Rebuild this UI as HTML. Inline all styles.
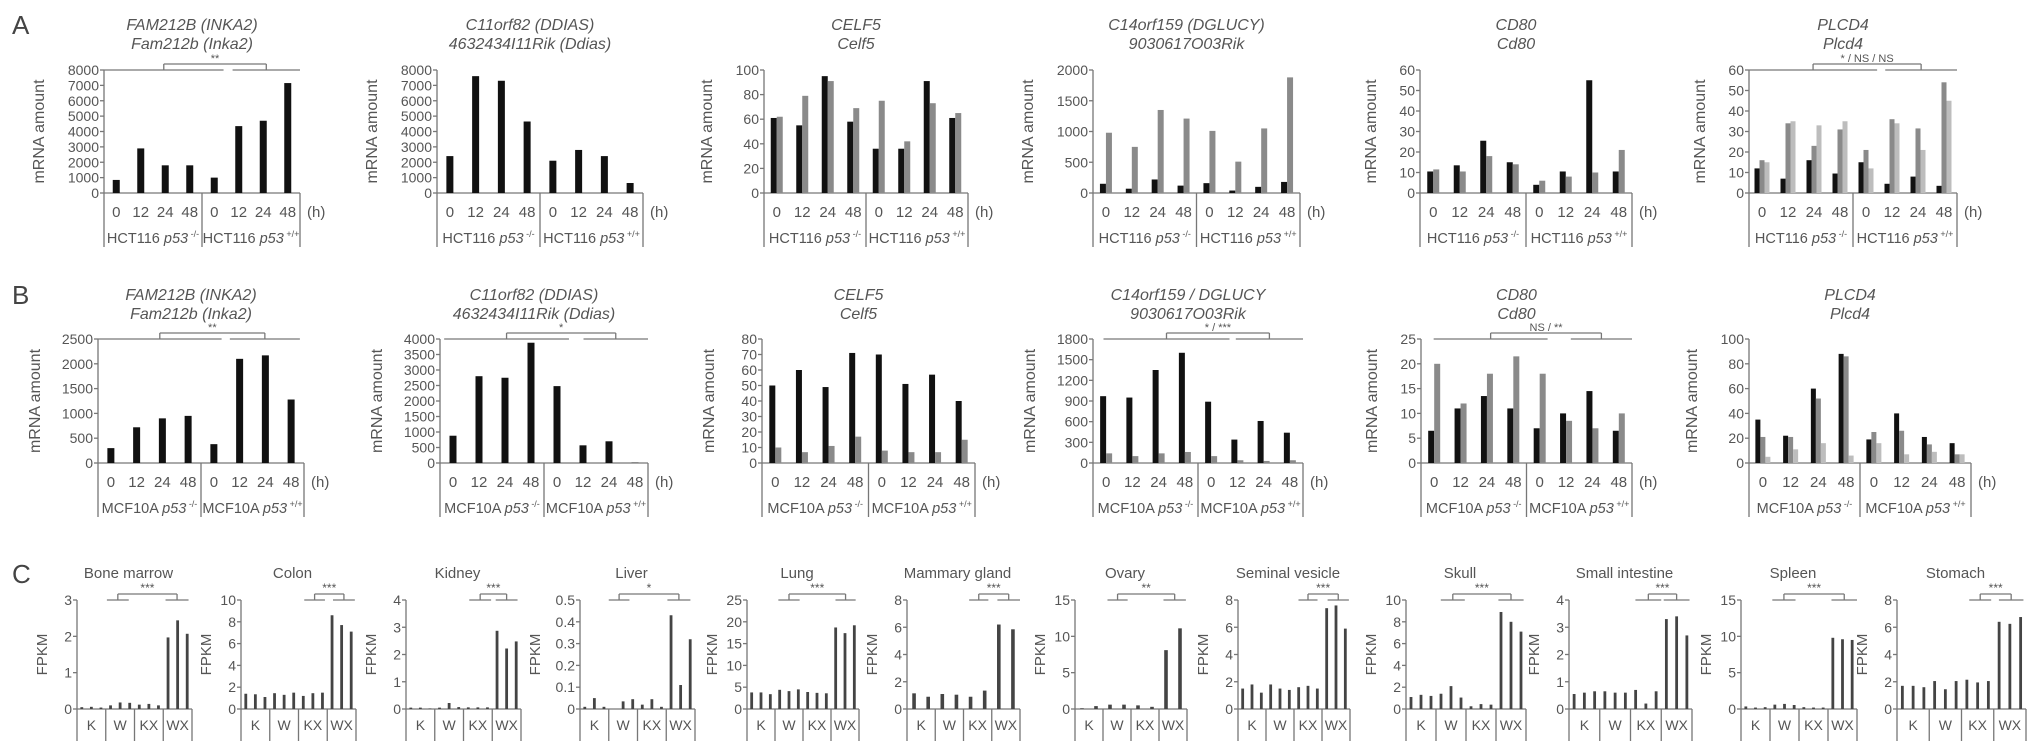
<!DOCTYPE html>
<html><head><meta charset="utf-8">
<style>
html,body{margin:0;padding:0;background:#fff;}
svg{display:block;font-family:"Liberation Sans",Arial,sans-serif;}
</style></head>
<body>
<svg id="fig" xmlns="http://www.w3.org/2000/svg" width="2031" height="754" viewBox="0 0 2031 754">
<text x="12" y="34" font-size="26" fill="#444">A</text>
<text x="12" y="304" font-size="26" fill="#444">B</text>
<text x="12" y="583" font-size="26" fill="#444">C</text>
</svg>
<script>
// ---- shared labels ----
const timeLabels = ['0','12','24','48','0','12','24','48'];
const tissueGroups = ['K','W','KX','WX'];

// ---- Panel A data ----
const a1Values = [850, 2900, 1800, 1800, 1000, 4350, 4700, 7150];
const a1Ticks = [0,1000,2000,3000,4000,5000,6000,7000,8000];
const a2Values = [2400, 7600, 7300, 4650, 2100, 2800, 2400, 650];
const a2Ticks = [0,1000,2000,3000,4000,5000,6000,7000,8000];
const a3Black = [61, 55, 95, 58, 36, 36, 91, 61];
const a3Grey = [62, 79, 91, 69, 75, 42, 73, 65];
const a3Ticks = [0,20,40,60,80,100];
const a4Black = [150, 70, 220, 120, 160, 40, 100, 180];
const a4Grey = [980, 750, 1350, 1210, 1010, 510, 1050, 1880];
const a4Ticks = [0,500,1000,1500,2000];
const a5Black = [10.5, 13.5, 25.5, 15, 4, 10.5, 55, 10.5];
const a5Grey = [11.5, 10.5, 18, 14, 6, 8, 10, 21];
const a5Ticks = [0,10,20,30,40,50,60];
const a6Black = [12, 7, 16, 9.5, 15, 4.5, 8, 3.5];
const a6Grey = [16, 34, 23, 31, 21, 36, 31.5, 54];
const a6Light = [15, 35, 33, 35, 12, 34, 21, 45];
const a6Ticks = [0,10,20,30,40,50,60];

// ---- Panel B data ----
const b1Values = [300, 720, 900, 950, 380, 2100, 2170, 1280];
const b1Ticks = [0,500,1000,1500,2000,2500];
const b2Values = [880, 2800, 2750, 3880, 2480, 570, 700, 10];
const b2Ticks = [0,500,1000,1500,2000,2500,3000,3500,4000];
const b3Black = [50, 60, 49, 71, 70, 51, 57, 40];
const b3Grey = [10, 7, 11, 17, 8, 7, 7, 15];
const b3Ticks = [0,10,20,30,40,50,60,70,80];
const b4Black = [970, 950, 1350, 1600, 890, 340, 610, 440];
const b4Grey = [140, 100, 140, 160, 100, 40, 30, 40];
const b4Ticks = [0,300,600,900,1200,1500,1800];
const b5Black = [6.5, 11, 13.5, 11, 7, 10, 14.5, 6.5];
const b5Grey = [20, 12, 18, 21.5, 18, 8.5, 7, 10];
const b5Ticks = [0,5,10,15,20,25];
const b6Black = [35, 22, 60, 88, 19, 40, 21, 16];
const b6Grey = [21, 21, 52, 86, 25, 26, 15, 7];
const b6Light = [5, 11, 16, 6, 16, 7, 9, 7];
const b6Ticks = [0,20,40,60,80,100];

// ---- Panel C data ----
const cNames = ['Bone marrow','Colon','Kidney','Liver','Lung','Mammary gland','Ovary','Seminal vesicle','Skull','Small intestine','Spleen','Stomach'];
const cStars = ['***','***','***','*','***','***','**','***','***','***','***','***'];
const cBoneMarrow = [0.05,0.06,0.04,0.1,0.18,0.17,0.12,0.14,0.1,1.97,2.44,2.07];
const cColon = [1.4,1.35,1.1,1.45,1.3,1.5,1.2,1.45,1.5,8.6,7.7,7.1];
const cKidney = [0.05,0.05,0.02,0.05,0.22,0.07,0.06,0.06,0.06,2.87,2.22,2.48];
const cLiver = [0.01,0.05,0.01,0.0,0.035,0.045,0.02,0.045,0.01,0.43,0.11,0.32];
const cLung = [3.8,3.8,3.4,4.4,4.1,4.5,3.9,3.7,3.6,18.7,17.4,19.2];
const cMammary = [1.15,0.9,1.1,1.05,0.9,1.35,6.2,5.85];
const cOvary = [0.1,0.4,0.6,0.6,0.5,0.3,8.1,11.1];
const cSeminal = [1.5,1.8,1.2,1.8,1.5,1.4,1.6,1.7,1.5,7.4,7.6,5.9];
const cSkull = [1.1,1.3,1.2,1.4,2.1,1.05,0.25,0.45,0.4,8.9,8.0,7.1];
const cSmallInt = [0.55,0.6,0.65,0.65,0.6,0.6,0.7,0.2,0.65,3.3,3.4,2.7];
const cSpleen = [0.35,0.2,0.25,0.6,0.7,0.55,0.25,0.2,0.2,9.8,9.6,9.5];
const cStomach = [1.7,1.7,1.6,2.05,1.45,2.05,2.15,1.95,2.05,6.4,6.25,6.75];
const cTicks = [[0,1,2,3],[0,2,4,6,8,10],[0,1,2,3,4],[0,0.1,0.2,0.3,0.4,0.5],[0,5,10,15,20,25],[0,2,4,6,8],[0,5,10,15],[0,2,4,6,8],[0,2,4,6,8,10],[0,1,2,3,4],[0,5,10,15],[0,2,4,6,8]];
const cSeries = [cBoneMarrow,cColon,cKidney,cLiver,cLung,cMammary,cOvary,cSeminal,cSkull,cSmallInt,cSpleen,cStomach];

const NS = 'http://www.w3.org/2000/svg';
const svg = document.getElementById('fig');
const TXT = '#555', AX = '#777';
function el(tag, attrs, parent) {
  const e = document.createElementNS(NS, tag);
  for (const k in attrs) e.setAttribute(k, attrs[k]);
  (parent || svg).appendChild(e);
  return e;
}
function line(g, x1, y1, x2, y2, name) {
  const l = el('line', {x1:x1, y1:y1, x2:x2, y2:y2, stroke:AX, 'stroke-width':1.3}, g);
  
  
  return l;
}
function fmt(v) { return String(Math.round(v*10)/10); }

function bracket(g, x0, w, yLine, br, label, size) {
  const segs = [[br[0], br[1]], [br[2], br[3]]];
  const legs = [];
  segs.forEach(s => {
    const a = x0 + s[0]*w, b = x0 + s[1]*w;
    line(g, a, yLine, b, yLine, 'bracket-group-line');
    legs.push((a+b)/2);
  });
  const yb = yLine - 6;
  line(g, legs[0], yLine, legs[0], yb, 'bracket-leg');
  line(g, legs[1], yLine, legs[1], yb, 'bracket-leg');
  line(g, legs[0], yb, legs[1], yb, 'bracket-bar');
  const t = el('text', {x:(legs[0]+legs[1])/2, y:yb-2, 'font-size':size, fill:TXT, 'text-anchor':'middle'}, g);
  t.textContent = label;
  
  
}

// ---- Panel A/B time-course charts ----
function timeChart(c) {
  const g = el('g', {});
  
  
  const w = c.x1 - c.x0;
  const max = c.ticks[c.ticks.length-1];
  const yOf = v => c.yZero - v/max*(c.yZero - c.yTop);
  // titles
  [c.t1, c.t2].forEach((t, i) => {
    const tt = el('text', {x:(c.x0+c.x1)/2 - 10, y:c.titleY + i*19, 'font-size':16, 'font-style':'italic', fill:TXT, 'text-anchor':'middle'}, g);
    tt.textContent = t;
    
    
  });
  // y axis
  line(g, c.x0, c.yTop, c.x0, c.yZero, 'y-axis');
  line(g, c.x0, c.yZero, c.x1, c.yZero, 'x-axis');
  c.ticks.forEach(v => {
    const y = yOf(v);
    line(g, c.x0-4, y, c.x0, y, 'y-tick');
    const t = el('text', {x:c.x0-5, y:y+5, 'font-size':14, fill:TXT, 'text-anchor':'end'}, g);
    t.textContent = String(v);
    
    
  });
  const yl = el('text', {x:0, y:0, 'font-size':16, fill:TXT, 'text-anchor':'middle', transform:'translate(' + (c.x0 - c.ylOff) + ',' + ((c.yTop+c.yZero)/2) + ') rotate(-90)'}, g);
  yl.textContent = 'mRNA amount';
  
  
  // bars
  const slot = w/8, n = c.series.length, bw = c.barW;
  c.series.forEach((arr, si) => {
    arr.forEach((v, i) => {
      const cx = c.x0 + slot*(i+0.5) + (si - (n-1)/2)*bw;
      const y = yOf(v);
      const r = el('rect', {x:cx - bw/2, y:y, width:bw, height:Math.max(0, c.yZero - y), fill:c.colors[si]}, g);
      
      
    });
  });
  // box below
  const bot = c.yZero + 54;
  [c.x0, c.x0 + w/2, c.x1].forEach(x => line(g, x, c.yZero, x, bot, 'category-box-line'));
  timeLabels.forEach((lab, i) => {
    const t = el('text', {x:c.x0 + slot*(i+0.5), y:c.yZero+24, 'font-size':15, fill:TXT, 'text-anchor':'middle'}, g);
    t.textContent = lab;
    
    
  });
  const h = el('text', {x:c.x1+7, y:c.yZero+24, 'font-size':15, fill:TXT}, g);
  h.textContent = '(h)';
  
  
  ['-/-', '+/+'].forEach((sup, k) => {
    const t = el('text', {x:c.x0 + w/4 + k*w/2, y:c.yZero+50, 'font-size':14.5, fill:TXT, 'text-anchor':'middle'}, g);
    
    
    const a = el('tspan', {}, t); a.textContent = c.cell + ' ';
    const b = el('tspan', {'font-style':'italic'}, t); b.textContent = 'p53';
    const s = el('tspan', {'font-size':9, dy:-6}, t); s.textContent = ' ' + sup;
  });
  if (c.bracket) bracket(g, c.x0, w, c.yTop, c.bracket, c.sig, 11);
}

const K = '#111', G = '#8a8a8a', L = '#bdbdbd';
const rowA = {titleY:30, yTop:70, yZero:193, cell:'HCT116'};
const rowB = {titleY:300, yTop:339, yZero:463, cell:'MCF10A'};
const charts = [
  Object.assign({}, rowA, {key:'a1', name:'chart-a-fam212b', x0:104, x1:300, ticks:a1Ticks, series:[a1Values], colors:[K], barW:7, ylOff:60, t1:'FAM212B (INKA2)', t2:'Fam212b (Inka2)', bracket:[0,0.61,0.656,1], sig:'**'}),
  Object.assign({}, rowA, {key:'a2', name:'chart-a-c11orf82', x0:437, x1:643, ticks:a2Ticks, series:[a2Values], colors:[K], barW:7, ylOff:60, t1:'C11orf82 (DDIAS)', t2:'4632434I11Rik (Ddias)'}),
  Object.assign({}, rowA, {key:'a3', name:'chart-a-celf5', x0:764, x1:968, ticks:a3Ticks, series:[a3Black,a3Grey], colors:[K,G], barW:6, ylOff:52, t1:'CELF5', t2:'Celf5'}),
  Object.assign({}, rowA, {key:'a4', name:'chart-a-c14orf159', x0:1093, x1:1300, ticks:a4Ticks, series:[a4Black,a4Grey], colors:[K,G], barW:6, ylOff:60, t1:'C14orf159 (DGLUCY)', t2:'9030617O03Rik'}),
  Object.assign({}, rowA, {key:'a5', name:'chart-a-cd80', x0:1420, x1:1632, ticks:a5Ticks, series:[a5Black,a5Grey], colors:[K,G], barW:6, ylOff:44, t1:'CD80', t2:'Cd80'}),
  Object.assign({}, rowA, {key:'a6', name:'chart-a-plcd4', x0:1749, x1:1957, ticks:a6Ticks, series:[a6Black,a6Grey,a6Light], colors:[K,G,L], barW:5, ylOff:44, t1:'PLCD4', t2:'Plcd4', bracket:[0,0.616,0.655,1], sig:'* / NS / NS'}),
  Object.assign({}, rowB, {key:'b1', name:'chart-b-fam212b', x0:98, x1:304, ticks:b1Ticks, series:[b1Values], colors:[K], barW:7, ylOff:58, t1:'FAM212B (INKA2)', t2:'Fam212b (Inka2)', bracket:[0,0.6,0.64,0.98], sig:'**'}),
  Object.assign({}, rowB, {key:'b2', name:'chart-b-c11orf82', x0:440, x1:648, ticks:b2Ticks, series:[b2Values], colors:[K], barW:7, ylOff:58, t1:'C11orf82 (DDIAS)', t2:'4632434I11Rik (Ddias)', bracket:[0.02,0.62,0.69,1], sig:'*'}),
  Object.assign({}, rowB, {key:'b3', name:'chart-b-celf5', x0:762, x1:975, ticks:b3Ticks, series:[b3Black,b3Grey], colors:[K,G], barW:6, ylOff:48, t1:'CELF5', t2:'Celf5'}),
  Object.assign({}, rowB, {key:'b4', name:'chart-b-c14orf159', x0:1093, x1:1303, ticks:b4Ticks, series:[b4Black,b4Grey], colors:[K,G], barW:6, ylOff:58, t1:'C14orf159 / DGLUCY', t2:'9030617O03Rik', bracket:[0.05,0.65,0.68,1], sig:'* / ***'}),
  Object.assign({}, rowB, {key:'b5', name:'chart-b-cd80', x0:1421, x1:1632, ticks:b5Ticks, series:[b5Black,b5Grey], colors:[K,G], barW:6, ylOff:44, t1:'CD80', t2:'Cd80', bracket:[0.06,0.6,0.71,1], sig:'NS / **'}),
  Object.assign({}, rowB, {key:'b6', name:'chart-b-plcd4', x0:1749, x1:1971, ticks:b6Ticks, series:[b6Black,b6Grey,b6Light], colors:[K,G,L], barW:5, ylOff:52, t1:'PLCD4', t2:'Plcd4'})
];
charts.forEach(timeChart);

// ---- Panel C tissue charts ----
const cX0 = [77,241,406,580,747,907,1075,1238,1406,1569,1741,1897];
const cW = [115,115,115,115,112,113,112,112,120,123,116,129];
const cBr = [[0.26,0.45,0.77,0.97],[0.55,0.73,0.8,0.99],[0.55,0.74,0.78,0.97],[0.25,0.43,0.76,0.96],[0.28,0.47,0.79,0.97],[0.55,0.72,0.8,1],[0.29,0.47,0.79,0.99],[0.54,0.71,0.8,0.99],[0.29,0.49,0.77,0.98],[0.54,0.75,0.77,0.98],[0.27,0.47,0.78,1],[0.56,0.73,0.79,0.98]];
const cTop = 600, cZero = 709;
cSeries.forEach((vals, ci) => {
  const g = el('g', {});
  
  
  const x0 = cX0[ci], w = cW[ci], ticks = cTicks[ci], max = ticks[ticks.length-1];
  const yOf = v => cZero - v/max*(cZero - cTop);
  const tt = el('text', {x:x0 + w/2 - 6, y:578, 'font-size':15, fill:TXT, 'text-anchor':'middle'}, g);
  tt.textContent = cNames[ci];
  
  
  line(g, x0, cTop, x0, cZero, 'y-axis');
  line(g, x0, cZero, x0 + w, cZero, 'x-axis');
  ticks.forEach(v => {
    const y = yOf(v);
    line(g, x0-4, y, x0, y, 'y-tick');
    const t = el('text', {x:x0-5, y:y+5, 'font-size':14, fill:TXT, 'text-anchor':'end'}, g);
    t.textContent = fmt(v);
    
    
  });
  const yl = el('text', {x:0, y:0, 'font-size':15, fill:TXT, 'text-anchor':'middle', transform:'translate(' + (x0 - (max < 1 ? 40 : 30)) + ',' + ((cTop+cZero)/2) + ') rotate(-90)'}, g);
  yl.textContent = 'FPKM';
  
  
  const per = vals.length / 4, gw = w/4, bw = per === 3 ? 2.8 : 3.6;
  vals.forEach((v, i) => {
    const gi = Math.floor(i/per), k = i % per;
    const cx = x0 + gi*gw + (k + 0.5)*gw/per;
    const y = yOf(v);
    const r = el('rect', {x:cx - bw/2, y:y, width:bw, height:Math.max(0, cZero - y), fill:'#444'}, g);
    
    
  });
  for (let j = 0; j <= 4; j++) line(g, x0 + j*gw, cZero, x0 + j*gw, 741, 'category-box-line');
  tissueGroups.forEach((lab, j) => {
    const t = el('text', {x:x0 + (j+0.5)*gw, y:730, 'font-size':14, fill:TXT, 'text-anchor':'middle'}, g);
    t.textContent = lab;
    
    
  });
  bracket(g, x0, w, cTop, cBr[ci], cStars[ci], 12);
});
</script>
</body></html>
